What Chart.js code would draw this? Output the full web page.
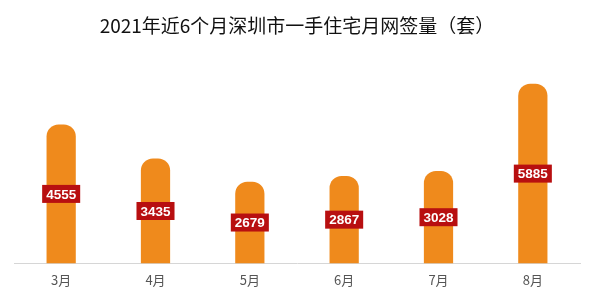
<!DOCTYPE html>
<html>
<head>
<meta charset="utf-8">
<script src="https://cdn.jsdelivr.net/npm/chart.js@4"></script>
<style>
    html, body { margin: 0; padding: 0; background: #fff; }
    #wrap { width: 594px; height: 304px; }
</style>
</head>
<body>
<div id="wrap"><canvas id="signChart" width="594" height="304"></canvas></div>
<script>
// chart data
const months = ["3月", "4月", "5月", "6月", "7月", "8月"];
const signed = [4555, 3435, 2679, 2867, 3028, 5885];
const chartTitle = "2021年近6个月深圳市一手住宅月网签量（套）";

// draws the red value boxes in the middle of each bar
const valueBoxes = {
    id: 'valueBoxes',
    afterDatasetsDraw(chart) {
        const ctx = chart.ctx;
        const meta = chart.getDatasetMeta(0);
        ctx.save();
        ctx.font = 'bold 13.5px "Liberation Sans", Arial, sans-serif';
        ctx.textAlign = 'center';
        ctx.textBaseline = 'middle';
        meta.data.forEach((bar, i) => {
            const text = String(signed[i]);
            const w = ctx.measureText(text).width + 8;
            const h = 18;
            const cy = (bar.y + bar.base) / 2;
            ctx.fillStyle = '#b80f10';
            ctx.fillRect(bar.x - w / 2, cy - h / 2, w, h);
            ctx.fillStyle = '#ffffff';
            ctx.fillText(text, bar.x, cy + 1);
        });
        ctx.restore();
    }
};

document.addEventListener('DOMContentLoaded', function () {
    const ctx = document.getElementById('signChart').getContext('2d');
    new Chart(ctx, {
        type: 'bar',
        data: {
            labels: months,
            datasets: [{
                data: signed,
                backgroundColor: '#ef8a1c',
                borderRadius: { topLeft: 12, topRight: 12 },
                borderSkipped: 'bottom',
                barPercentage: 0.62,
                categoryPercentage: 0.5
            }]
        },
        options: {
            responsive: false,
            animation: false,
            layout: { padding: { left: 14, right: 14, top: 0, bottom: 7 } },
            plugins: {
                legend: { display: false },
                tooltip: { enabled: false },
                title: {
                    display: true,
                    text: chartTitle,
                    color: '#111',
                    font: { family: '"Noto Sans CJK SC", sans-serif', size: 19, weight: 'normal' },
                    padding: { top: 14, bottom: 13 }
                }
            },
            scales: {
                x: {
                    grid: { display: false, drawTicks: false },
                    border: { display: true, color: '#d6d6d6', width: 1 },
                    ticks: {
                        color: '#555',
                        padding: 9,
                        font: { family: '"Noto Sans CJK SC", sans-serif', size: 13 }
                    }
                },
                y: {
                    display: false,
                    min: 0,
                    max: 7000
                }
            }
        },
        plugins: [valueBoxes]
    });
});
</script>
</body>
</html>
